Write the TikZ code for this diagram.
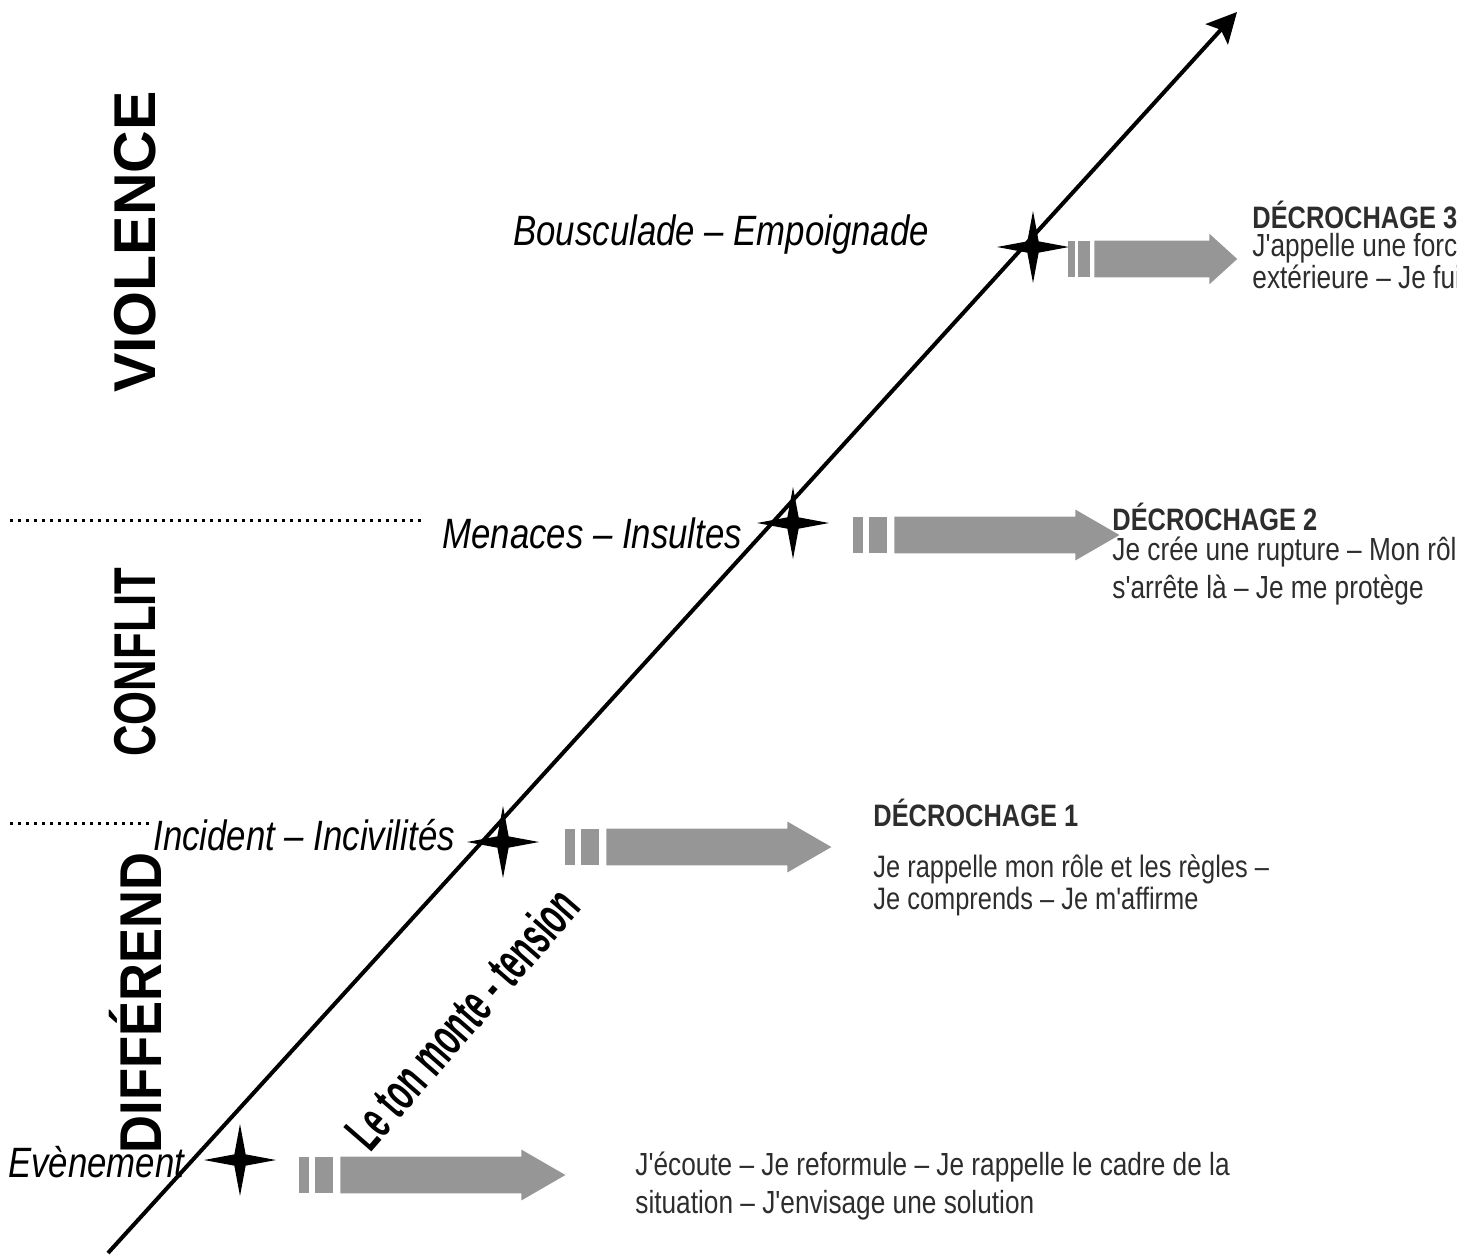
\documentclass[tikz,border=0pt]{standalone}
\usepackage{fontspec}
\setmainfont{Liberation Sans}
\newfontfamily\etroite[FakeStretch=0.82]{Liberation Sans}
\newfontfamily\tresetroite[FakeStretch=0.56]{Liberation Sans}
\usetikzlibrary{arrows.meta, positioning, shapes.geometric, shapes.arrows}
\definecolor{grisfleche}{RGB}{150,150,150}
\definecolor{gristexte}{RGB}{45,45,45}
\tikzset{
  axe/.style={line width=2pt, -{Stealth[length=15pt, width=15pt, inset=3pt]}},
  etoile/.style={star, star points=4, star point ratio=4.5, fill=black, inner sep=0pt, minimum size=36pt},
  barre/.style={fill=grisfleche, inner sep=0pt, minimum height=18pt, anchor=west},
  fleche/.style={single arrow, fill=grisfleche, inner xsep=0pt, inner ysep=9pt, minimum height=#1,
    single arrow head extend=3.5pt, single arrow tip angle=60, anchor=west},
  niveau/.style={font=\bfseries\fontsize{29.5}{32}\selectfont, rotate=90},
  etape/.style={font=\etroite\itshape\fontsize{21.2}{25}\selectfont, anchor=west, inner sep=0pt},
  titre/.style={font=\etroite\bfseries\fontsize{15.5}{18}\selectfont, text=gristexte, anchor=west, inner sep=0pt},
  consigne/.style={font=\etroite\fontsize{#1}{15}\selectfont, text=gristexte, anchor=west, align=left, inner sep=0pt},
  consigne/.default=15.5,
  pente/.style={font=\tresetroite\bfseries\fontsize{27}{30}\selectfont, rotate=49},
  seuil/.style={line width=1.5pt, dash pattern=on 1.5pt off 2.5pt},
}

\begin{document}
\begin{tikzpicture}[x=0.5pt, y=-0.5pt]
  \useasboundingbox (0,0) rectangle (1477,1259);
  \clip (0,0) rectangle (1456,1259);

  % axe de la tension
  \coordinate (debut) at (108,1253);
  \coordinate (fin) at (1237,12);
  \draw[axe] (debut) -- (fin);

  % niveaux
  \node[niveau] (violence) at (135,242) {VIOLENCE};
  \node[niveau] (conflit) at (135,662) {\scalebox{0.74}[1]{CONFLIT}};
  \node[niveau] (differend) at (135,1003) {\scalebox{0.89}[1]{DIFFÉREND}};
  \draw[seuil] (10,520) -- (422,520);
  \draw[seuil] (10,823) -- (150,823);

  % etapes sur l'axe
  \node[etoile] (e0) at (240,1160) {};
  \node[etoile] (e1) at (503,842) {};
  \node[etoile] (e2) at (793,523) {};
  \node[etoile] (e3) at (1033,247) {};
  \node[etape] (evenement) at (8,1162) {Evènement};
  \node[etape] (incident) at (153,835) {Incident – Incivilités};
  \node[etape] (menaces) at (442,533) {Menaces – Insultes};
  \node[etape] (bousculade) at (513,235) {Bousculade – Empoignade};
  \node[pente] (ton) at (462,1018) {Le ton monte - tension};

  % fleches de decrochage
  \foreach \x/\y/\s/\n in {299/1175/1/0, 565/847/1/1, 853/535/1/2, 1068/259/0.635/3} {
    \begin{scope}[shift={(\x,\y)}, xscale=\s, transform shape]
      \node[barre, minimum width=5pt] (barreA\n) at (0,0) {};
      \node[barre, minimum width=9pt] (barreB\n) at (16,0) {};
      \node[fleche=112.5pt] (fleche\n) at (41,0) {};
    \end{scope}
  }

  % consignes
  \node[consigne=16] (c0) at (635,1186) {J'écoute – Je reformule – Je rappelle le cadre de la\\[4pt]situation – J'envisage une solution};
  \node[titre] (d1) at (873,813) {DÉCROCHAGE 1};
  \node[consigne] (c1) at (873,885) {Je rappelle mon rôle et les règles –\\[1pt]Je comprends – Je m'affirme};
  \node[titre] (d2) at (1112,517) {DÉCROCHAGE 2};
  \node[consigne=16] (c2) at (1112,571) {Je crée une rupture – Mon rôle\\[2.5pt]s'arrête là – Je me protège};
  \node[titre] (d3) at (1252,215) {DÉCROCHAGE 3};
  \node[consigne=16] (c3) at (1252,261) {J'appelle une force\\extérieure – Je fuis};
\end{tikzpicture}
\end{document}
